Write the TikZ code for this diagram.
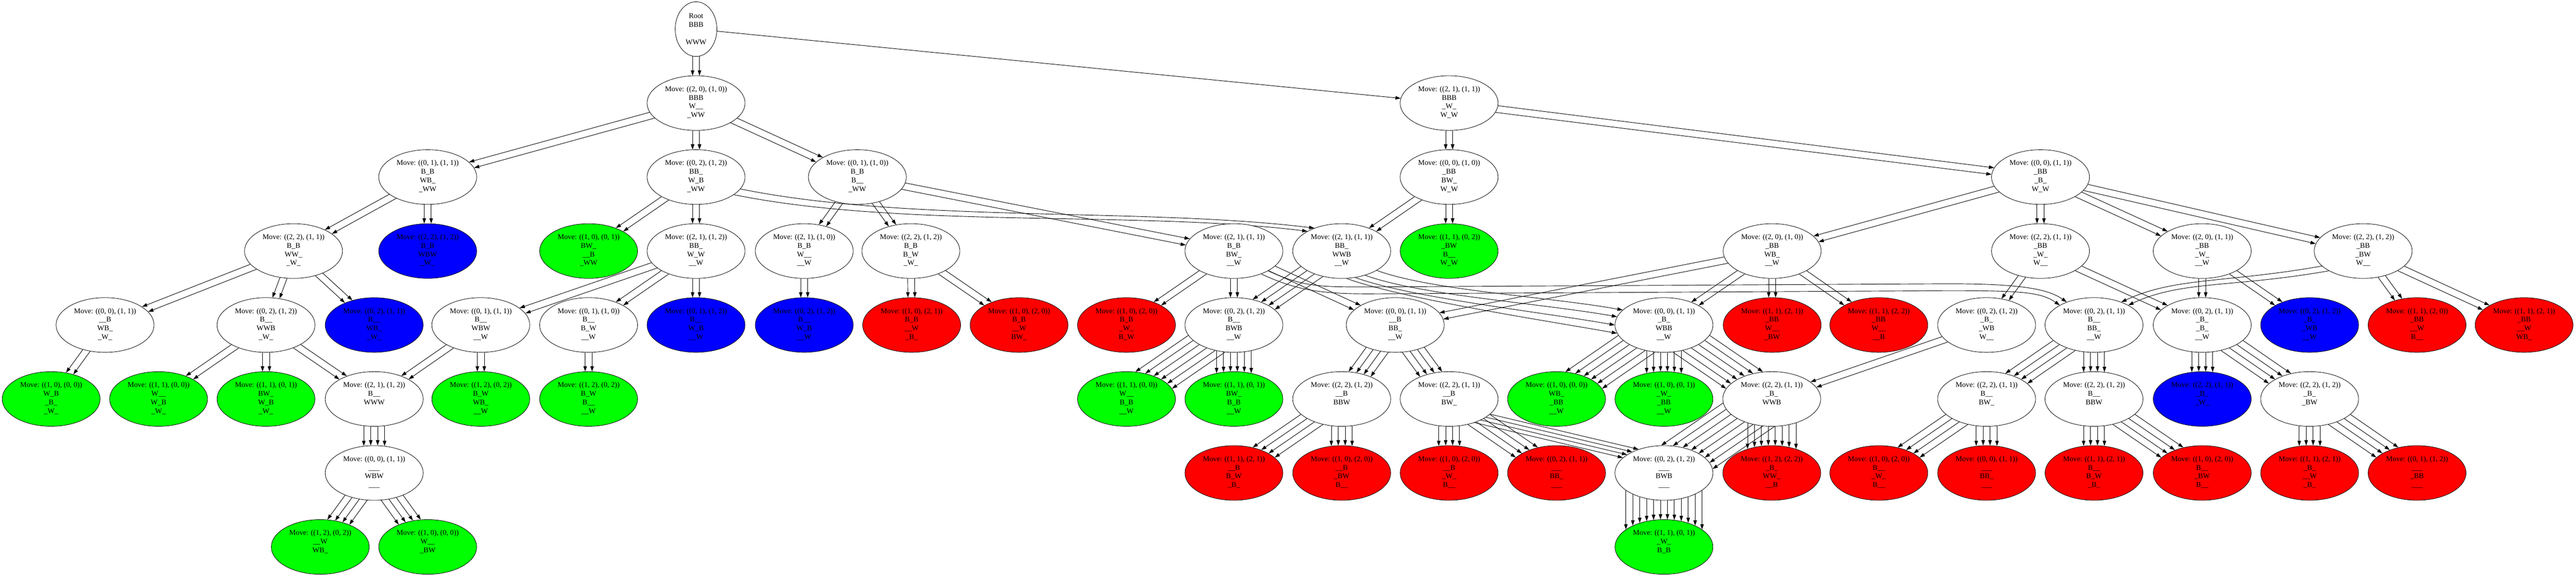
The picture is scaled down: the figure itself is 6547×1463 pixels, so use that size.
\documentclass[tikz,border=0pt]{standalone}
\usepackage{fontspec}
\setmainfont{Liberation Serif}
\usepackage{tikz}
\usetikzlibrary{shapes.geometric, arrows.meta, calc}
\pgfdeclarelayer{tlo}
\pgfsetlayers{tlo,main}

% etykieta wezla: ruch i trzy wiersze planszy
\newcommand{\ruch}[4]{Move: (#1)\\\detokenize{#2}\strut\\\detokenize{#3}\strut\\\detokenize{#4}\strut}

% #1 liczba kopii, #2 od, #3 do, #4 i #5 punkty wyznaczajace kierunek, #6 odstep (pt)
\newcommand{\krawedzp}[6]{%
  \foreach \k in {1,...,#1}{%
    \draw[link] let
      \p1=(#2.center), \p2=(#2.east), \p3=(#2.north),
      \p4=(#3.center), \p5=(#3.east), \p6=(#3.north),
      \p7=(#4), \p8=(#5),
      \n{len}={100*veclen((\x8-\x7)/100,(\y8-\y7)/100)},
      \n{dx}={(\x8-\x7)/(\n{len})},
      \n{dy}={(\y8-\y7)/(\n{len})},
      \n{off}={(\k-(#1+1)/2)*(#6)},
      \n{px}={\x7-(\n{dy})*(\n{off})},
      \n{py}={\y7+(\n{dx})*(\n{off})},
      \n{ua}={(\n{px}-\x1)/(\x2-\x1)},
      \n{va}={(\n{py}-\y1)/(\y3-\y1)},
      \n{pa}={100*(\n{dx})/(\x2-\x1)},
      \n{qa}={100*(\n{dy})/(\y3-\y1)},
      \n{aa}={(\n{pa})*(\n{pa})+(\n{qa})*(\n{qa})},
      \n{ba}={2*((\n{ua})*(\n{pa})+(\n{va})*(\n{qa}))},
      \n{ca}={(\n{ua})*(\n{ua})+(\n{va})*(\n{va})-1},
      \n{ta}={100*(-(\n{ba})+sqrt(max(0,(\n{ba})*(\n{ba})-4*(\n{aa})*(\n{ca}))))/(2*(\n{aa}))},
      \n{ub}={(\n{px}-\x4)/(\x5-\x4)},
      \n{vb}={(\n{py}-\y4)/(\y6-\y4)},
      \n{pb}={100*(\n{dx})/(\x5-\x4)},
      \n{qb}={100*(\n{dy})/(\y6-\y4)},
      \n{ab}={(\n{pb})*(\n{pb})+(\n{qb})*(\n{qb})},
      \n{bb}={2*((\n{ub})*(\n{pb})+(\n{vb})*(\n{qb}))},
      \n{cb}={(\n{ub})*(\n{ub})+(\n{vb})*(\n{vb})-1},
      \n{tb}={100*(-(\n{bb})-sqrt(max(0,(\n{bb})*(\n{bb})-4*(\n{ab})*(\n{cb}))))/(2*(\n{ab}))}
    in ({\n{px}+(\n{ta})*(\n{dx})+0pt},{\n{py}+(\n{ta})*(\n{dy})+0pt})
      -- ({\n{px}+(\n{tb})*(\n{dx})+0pt},{\n{py}+(\n{tb})*(\n{dy})+0pt});
  }}
\newcommand{\krawedz}[3]{\krawedzp{#1}{#2}{#3}{#2.center}{#3.center}{13.2}}

% luk: #1 kopie, #2 od, #3 kat, #4 krok, #5 do, #6 kat, #7 krok, #8 i #9 wektory kontrolne
\newcommand{\luk}[9]{%
  \foreach \k in {1,...,#1}{%
    \pgfmathtruncatemacro{\kata}{#3+(\k-(#1+1)/2)*(#4)}%
    \pgfmathtruncatemacro{\katb}{#6+(\k-(#1+1)/2)*(#7)}%
    \draw[link] (#2.\kata) .. controls +(#8) and +(#9) .. (#5.\katb);
  }}

\begin{document}
\begin{tikzpicture}[
    x=0.75pt, y=0.75pt,
    >={Triangle[length=10pt,width=6.7pt]},
    state/.style={draw, ellipse, line width=0.8pt, fill=white, minimum width=186.75pt, minimum height=104.25pt, inner sep=0pt, align=center, font=\fontsize{14pt}{16.5pt}\selectfont},
    win/.style={state, fill=green},
    loss/.style={state, fill=red},
    blocked/.style={state, fill=blue},
    link/.style={->, line width=0.9pt}
    ]
    \useasboundingbox (0,0) rectangle (6547,-1463);

    % --- Poziom 0 i 1 ---
    \node[state, minimum width=79.5pt] (root) at (1769,-74) {Root\\BBB\\\strut\\WWW}; % korzen
    \node[state] (a) at (1769,-262) {\ruch{(2, 0), (1, 0)}{BBB}{W__}{_WW}};
    \node[state] (b) at (3683,-262) {\ruch{(2, 1), (1, 1)}{BBB}{_W_}{W_W}};

    % --- Poziom 2 ---
    \node[state] (a1) at (1087,-450) {\ruch{(0, 1), (1, 1)}{B_B}{WB_}{_WW}};
    \node[state] (a2) at (1769,-450) {\ruch{(0, 2), (1, 2)}{BB_}{W_B}{_WW}};
    \node[state] (a3) at (2179,-450) {\ruch{(0, 1), (1, 0)}{B_B}{B__}{_WW}};
    \node[state] (b1) at (3683,-450) {\ruch{(0, 0), (1, 0)}{_BB}{BW_}{W_W}};
    \node[state] (b2) at (5186,-450) {\ruch{(0, 0), (1, 1)}{_BB}{_B_}{W_W}};

    % --- Poziom 3 ---
    \node[state]   (c1)  at (746,-638)  {\ruch{(2, 2), (1, 1)}{B_B}{WW_}{_W_}};
    \node[blocked] (c2)  at (1087,-638) {\ruch{(2, 2), (1, 2)}{B_B}{WBW}{_W_}};
    \node[win]     (c3)  at (1496,-638) {\ruch{(1, 0), (0, 1)}{BW_}{__B}{_WW}};
    \node[state]   (c4)  at (1769,-638) {\ruch{(2, 1), (1, 2)}{BB_}{W_W}{__W}};
    \node[state]   (c5)  at (2044,-638) {\ruch{(2, 1), (1, 0)}{B_B}{W__}{__W}};
    \node[state]   (c6)  at (2315,-638) {\ruch{(2, 2), (1, 2)}{B_B}{B_W}{_W_}};
    \node[state]   (c7)  at (3136,-638) {\ruch{(2, 1), (1, 1)}{B_B}{BW_}{__W}};
    \node[state]   (c8)  at (3410,-638) {\ruch{(2, 1), (1, 1)}{BB_}{WWB}{__W}};
    \node[win]     (c9)  at (3683,-638) {\ruch{(1, 1), (0, 2)}{_BW}{B__}{W_W}};
    \node[state]   (c10) at (4504,-638) {\ruch{(2, 0), (1, 0)}{_BB}{WB_}{__W}};
    \node[state]   (c11) at (5186,-638) {\ruch{(2, 2), (1, 1)}{_BB}{_W_}{W__}};
    \node[state]   (c12) at (5597,-638) {\ruch{(2, 0), (1, 1)}{_BB}{_W_}{__W}};
    \node[state]   (c13) at (6006,-638) {\ruch{(2, 2), (1, 2)}{_BB}{_BW}{W__}};

    % --- Poziom 4 ---
    \node[state]   (d1)  at (267,-826)  {\ruch{(0, 0), (1, 1)}{__B}{WB_}{_W_}};
    \node[state]   (d2)  at (676,-826)  {\ruch{(0, 2), (1, 2)}{B__}{WWB}{_W_}};
    \node[blocked] (d3)  at (951,-826)  {\ruch{(0, 2), (1, 1)}{B__}{WB_}{_W_}};
    \node[state]   (d4)  at (1222,-826) {\ruch{(0, 1), (1, 1)}{B__}{WBW}{__W}};
    \node[state]   (d5)  at (1496,-826) {\ruch{(0, 1), (1, 0)}{B__}{B_W}{__W}};
    \node[blocked] (d6)  at (1769,-826) {\ruch{(0, 1), (1, 2)}{B__}{W_B}{__W}};
    \node[blocked] (d7)  at (2044,-826) {\ruch{(0, 2), (1, 2)}{B__}{W_B}{__W}};
    \node[loss]    (d8)  at (2317,-826) {\ruch{(1, 0), (2, 1)}{B_B}{__W}{_B_}};
    \node[loss]    (d9)  at (2590,-826) {\ruch{(1, 0), (2, 0)}{B_B}{__W}{BW_}};
    \node[loss]    (d10) at (2863,-826) {\ruch{(1, 0), (2, 0)}{B_B}{_W_}{B_W}};
    \node[state]   (d11) at (3136,-826) {\ruch{(0, 2), (1, 2)}{B__}{BWB}{__W}};
    \node[state]   (d12) at (3546,-826) {\ruch{(0, 0), (1, 1)}{__B}{BB_}{__W}};
    \node[state]   (d13) at (4229,-826) {\ruch{(0, 0), (1, 1)}{_B_}{WBB}{__W}};
    \node[loss]    (d14) at (4504,-826) {\ruch{(1, 1), (2, 1)}{_BB}{W__}{_BW}};
    \node[loss]    (d15) at (4775,-826) {\ruch{(1, 1), (2, 2)}{_BB}{W__}{__B}};
    \node[state]   (d16) at (5049,-826) {\ruch{(0, 2), (1, 2)}{_B_}{_WB}{W__}};
    \node[state]   (d17) at (5322,-826) {\ruch{(0, 2), (1, 1)}{B__}{BB_}{__W}};
    \node[state]   (d18) at (5597,-826) {\ruch{(0, 2), (1, 1)}{_B_}{_B_}{__W}};
    \node[blocked] (d19) at (5870,-826) {\ruch{(0, 2), (1, 2)}{_B_}{_WB}{__W}};
    \node[loss]    (d20) at (6143,-826) {\ruch{(1, 1), (2, 0)}{_BB}{__W}{B__}};
    \node[loss]    (d21) at (6415,-826) {\ruch{(1, 1), (2, 1)}{_BB}{__W}{WB_}};

    % --- Poziom 5 ---
    \node[win]     (e1)  at (130,-1014)  {\ruch{(1, 0), (0, 0)}{W_B}{_B_}{_W_}};
    \node[win]     (e2)  at (403,-1014)  {\ruch{(1, 1), (0, 0)}{W__}{W_B}{_W_}};
    \node[win]     (e3)  at (676,-1014)  {\ruch{(1, 1), (0, 1)}{BW_}{W_B}{_W_}};
    \node[state]   (e4)  at (951,-1014)  {\ruch{(2, 1), (1, 2)}{B__}{WWW}{}};
    \node[win]     (e5)  at (1222,-1014) {\ruch{(1, 2), (0, 2)}{B_W}{WB_}{__W}};
    \node[win]     (e6)  at (1496,-1014) {\ruch{(1, 2), (0, 2)}{B_W}{B__}{__W}};
    \node[win]     (e7)  at (2863,-1014) {\ruch{(1, 1), (0, 0)}{W__}{B_B}{__W}};
    \node[win]     (e8)  at (3136,-1014) {\ruch{(1, 1), (0, 1)}{BW_}{B_B}{__W}};
    \node[state]   (e9)  at (3410,-1014) {\ruch{(2, 2), (1, 2)}{__B}{BBW}{}};
    \node[state]   (e10) at (3683,-1014) {\ruch{(2, 2), (1, 1)}{__B}{BW_}{}};
    \node[win]     (e11) at (3956,-1014) {\ruch{(1, 0), (0, 0)}{WB_}{_BB}{__W}};
    \node[win]     (e12) at (4229,-1014) {\ruch{(1, 0), (0, 1)}{_W_}{_BB}{__W}};
    \node[state]   (e13) at (4503,-1014) {\ruch{(2, 2), (1, 1)}{_B_}{WWB}{}};
    \node[state]   (e14) at (5049,-1014) {\ruch{(2, 2), (1, 1)}{B__}{BW_}{}};
    \node[state]   (e15) at (5322,-1014) {\ruch{(2, 2), (1, 2)}{B__}{BBW}{}};
    \node[blocked] (e16) at (5597,-1014) {\ruch{(2, 2), (1, 1)}{_B_}{_W_}{}};
    \node[state]   (e17) at (5870,-1014) {\ruch{(2, 2), (1, 2)}{_B_}{_BW}{}};

    % --- Poziom 6 ---
    \node[state] (f1)  at (951,-1202)  {\ruch{(0, 0), (1, 1)}{___}{WBW}{___}};
    \node[loss]  (f2)  at (3136,-1202) {\ruch{(1, 1), (2, 1)}{__B}{B_W}{_B_}};
    \node[loss]  (f3)  at (3410,-1202) {\ruch{(1, 0), (2, 0)}{__B}{_BW}{B__}};
    \node[loss]  (f4)  at (3683,-1202) {\ruch{(1, 0), (2, 0)}{__B}{_W_}{B__}};
    \node[loss]  (f5)  at (3956,-1202) {\ruch{(0, 2), (1, 1)}{___}{BB_}{___}};
    \node[state] (f6)  at (4229,-1202) {\ruch{(0, 2), (1, 2)}{___}{BWB}{___}};
    \node[loss]  (f7)  at (4503,-1202) {\ruch{(1, 2), (2, 2)}{_B_}{WW_}{__B}};
    \node[loss]  (f8)  at (4775,-1202) {\ruch{(1, 0), (2, 0)}{B__}{_W_}{B__}};
    \node[loss]  (f9)  at (5049,-1202) {\ruch{(0, 0), (1, 1)}{___}{BB_}{___}};
    \node[loss]  (f10) at (5322,-1202) {\ruch{(1, 1), (2, 1)}{B__}{B_W}{_B_}};
    \node[loss]  (f11) at (5597,-1202) {\ruch{(1, 0), (2, 0)}{B__}{_BW}{B__}};
    \node[loss]  (f12) at (5870,-1202) {\ruch{(1, 1), (2, 1)}{_B_}{__W}{_B_}};
    \node[loss]  (f13) at (6143,-1202) {\ruch{(0, 1), (1, 2)}{___}{_BB}{___}};

    % --- Poziom 7 ---
    \node[win] (g1) at (814,-1390)  {\ruch{(1, 2), (0, 2)}{__W}{WB_}{}};
    \node[win] (g2) at (1087,-1390) {\ruch{(1, 0), (0, 0)}{W__}{_BW}{}};
    \node[win] (g3) at (4229,-1390) {\ruch{(1, 1), (0, 1)}{_W_}{B_B}{}};

    % --- Krawedzie (pod wezlami) ---
    \begin{pgfonlayer}{tlo}
      \krawedz{2}{root}{a}
      \krawedz{1}{root}{b}
      \krawedz{2}{a}{a1} \krawedz{2}{a}{a2} \krawedz{2}{a}{a3}
      \krawedz{2}{b}{b1} \krawedz{2}{b}{b2}
      % poziom 2 -> 3
      \krawedz{2}{a1}{c1} \krawedz{2}{a1}{c2}
      \krawedz{2}{a2}{c3} \krawedz{2}{a2}{c4}
      \luk{2}{a2}{-20}{10}{c8}{145}{-10}{-11.5:435}{173:435}
      \krawedz{2}{a3}{c5} \krawedz{2}{a3}{c6} \krawedz{2}{a3}{c7}
      \krawedz{2}{b1}{c8} \krawedz{2}{b1}{c9}
      \krawedz{2}{b2}{c10} \krawedz{2}{b2}{c11} \krawedz{2}{b2}{c12} \krawedz{2}{b2}{c13}
      % poziom 3 -> 4
      \krawedz{2}{c1}{d1} \krawedz{2}{c1}{d2} \krawedz{2}{c1}{d3}
      \krawedz{2}{c4}{d4} \krawedz{2}{c4}{d5} \krawedz{2}{c4}{d6}
      \krawedz{2}{c5}{d7}
      \krawedz{2}{c6}{d8} \krawedz{2}{c6}{d9}
      \krawedz{2}{c7}{d10} \krawedz{2}{c7}{d11} \krawedz{2}{c7}{d12}
      \foreach \sa/\eb/\dy in {-40/150/-8.8, -30/140/8.8}{
        \draw[link] (c7.\sa) .. controls +(-25:100) and +(180:120) .. ($(3480,-738)+(0,\dy)$)
          -- ($(4950,-730)+(0,\dy)$) .. controls +(0:180) and +(145:60) .. (d17.\eb);
      }
      \krawedz{4}{c8}{d11}
      \luk{4}{c8}{-54.5}{17}{d13}{175}{-10}{-20:150}{170:200}
      \krawedz{2}{c10}{d12} \krawedz{2}{c10}{d13} \krawedz{2}{c10}{d14} \krawedz{2}{c10}{d15}
      \krawedz{2}{c11}{d16} \krawedz{2}{c11}{d18}
      \krawedz{2}{c12}{d18} \krawedz{2}{c12}{d19}
      \luk{2}{c13}{205}{-10}{d17}{35}{10}{190:250}{25:150}
      \krawedz{2}{c13}{d20} \krawedz{2}{c13}{d21}
      % poziom 4 -> 5
      \krawedz{2}{d1}{e1}
      \krawedz{2}{d2}{e2} \krawedz{2}{d2}{e3} \krawedz{2}{d2}{e4}
      \krawedz{2}{d4}{e4} \krawedz{2}{d4}{e5}
      \krawedz{2}{d5}{e6}
      \krawedz{6}{d11}{e7} \krawedz{6}{d11}{e8}
      \krawedz{4}{d12}{e9} \krawedz{4}{d12}{e10}
      \krawedz{6}{d13}{e11} \krawedz{6}{d13}{e12} \krawedz{6}{d13}{e13}
      \krawedz{2}{d16}{e13}
      \krawedz{4}{d17}{e14} \krawedz{4}{d17}{e15}
      \krawedz{4}{d18}{e16} \krawedz{4}{d18}{e17}
      % poziom 5 -> 6
      \krawedz{4}{e4}{f1}
      \krawedz{4}{e9}{f2} \krawedz{4}{e9}{f3}
      \krawedz{4}{e10}{f4} \krawedz{4}{e10}{f5}
      \krawedzp{4}{e10}{f6}{3770,-1064}{4142,-1152}{7.5}
      \krawedz{8}{e13}{f6} \krawedz{8}{e13}{f7}
      \krawedz{4}{e14}{f8} \krawedz{4}{e14}{f9}
      \krawedz{4}{e15}{f10} \krawedz{4}{e15}{f11}
      \krawedz{4}{e17}{f12} \krawedz{4}{e17}{f13}
      % poziom 6 -> 7
      \krawedz{4}{f1}{g1} \krawedz{4}{f1}{g2}
      \krawedz{12}{f6}{g3}
    \end{pgfonlayer}
\end{tikzpicture}
\end{document}
